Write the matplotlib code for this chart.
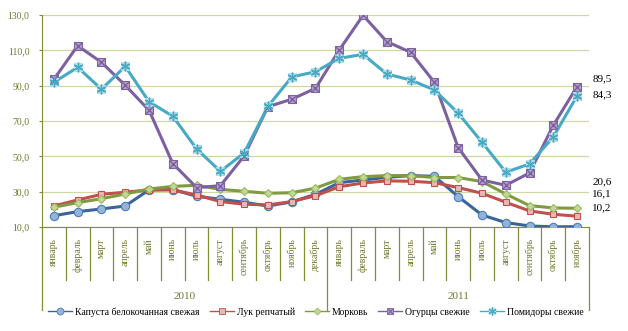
import matplotlib
matplotlib.use("Agg")
from matplotlib import pyplot as plt
from matplotlib.lines import Line2D
from matplotlib.legend_handler import HandlerTuple
import numpy as np

plt.rcParams['font.family'] = ['Liberation Serif', 'DejaVu Serif']

# данные
months = ['январь', 'февраль', 'март', 'апрель', 'май', 'июнь', 'июль', 'август',
          'сентябрь', 'октябрь', 'ноябрь', 'декабрь',
          'январь', 'февраль', 'март', 'апрель', 'май', 'июнь', 'июль', 'август',
          'сентябрь', 'октябрь', 'ноябрь']
years = ['2010', '2011']
year_len = [12, 11]

cabbage = [16.4, 18.7, 20.2, 21.9, 31.0, 31.2, 27.4, 25.7, 24.0, 21.9, 24.2, 28.5,
           35.1, 36.6, 38.1, 39.1, 38.7, 27.2, 16.8, 12.5, 10.6, 10.1, 10.2]
onion = [21.9, 25.3, 28.5, 29.7, 31.0, 31.0, 28.1, 24.4, 22.9, 22.5, 24.4, 27.7,
         32.8, 34.9, 36.1, 35.9, 35.1, 32.3, 29.1, 24.0, 19.1, 17.2, 16.1]
carrot = [21.2, 23.8, 26.0, 28.7, 31.5, 33.0, 33.6, 31.3, 30.2, 29.1, 29.4, 32.0,
          37.0, 38.5, 39.1, 39.1, 38.0, 38.0, 35.7, 28.7, 22.1, 20.8, 20.6]
cucumber = [93.6, 112.6, 103.2, 90.2, 76.1, 45.9, 32.3, 33.4, 50.2, 78.1, 82.3, 88.5,
            110.2, 129.8, 114.9, 108.9, 91.9, 54.9, 36.6, 33.6, 40.6, 67.6, 89.5]
tomato = [91.9, 100.4, 88.0, 100.9, 80.9, 72.7, 54.2, 41.5, 51.9, 78.3, 94.9, 97.9,
          105.5, 107.7, 96.6, 93.2, 87.6, 74.4, 58.0, 41.0, 45.7, 61.0, 84.3]

names = ['Капуста белокочанная свежая', 'Лук репчатый', 'Морковь',
         'Огурцы свежие', 'Помидоры свежие']

olive = '#7f8f35'
tick_col = '#6b7a2c'
grid_col = '#cdd8a4'

fig = plt.figure(figsize=(6.28, 3.31), dpi=100)
ax = fig.add_axes([42/628, 1-227/331, (589-42)/628, 212/331])

x = np.arange(len(months))
lw = 2.2

# стили серий: цвет линии, маркер, размер, заливка, обводка
styles = [
    ('#3b6498', 'o', 6, '#95b3d7', '#4a7ebb'),
    ('#c0504d', 's', 5, '#e6b9b8', '#c0504d'),
    ('#7f9a42', 'D', 4.5, '#c3d69b', '#9bbb59'),
    ('#7d60a0', 's', 6, '#b3a2c7', '#8064a2'),
    ('#46aac5', 's', 6, '#b7dee8', '#b7dee8'),
]
series = [cabbage, onion, carrot, cucumber, tomato]

handles = []
for ser, (c, m, ms, fc, ec) in zip(series, styles):
    ax.plot(x, ser, color=c, lw=lw, marker=m, ms=ms, mfc=fc, mec=ec, mew=0.8, zorder=3)
    handles.append(Line2D([], [], color=c, lw=1.0, marker=m, ms=ms - 1, mfc=fc, mec=ec, mew=0.6))

# кресты поверх маркеров огурцов и помидоров
ax.plot(x, cucumber, ls='none', marker='x', ms=6, mec='#7d60a0', mew=1.0, zorder=4)
ax.plot(x, tomato, ls='none', marker=(6, 2, 0), ms=7, mec='#46aac5', mew=1.0, zorder=4)
hx4 = Line2D([], [], ls='none', marker='x', ms=5, mec='#7d60a0', mew=0.8)
hx5 = Line2D([], [], ls='none', marker=(6, 2, 0), ms=6, mec='#46aac5', mew=0.8)
handles[3] = (handles[3], hx4)
handles[4] = (handles[4], hx5)

# подписи последних значений
offsets = [13.7, 15.8, 19.4, 5.8, 1.0]
for ser, dy in zip(series, offsets):
    v = ser[-1]
    ax.annotate(('%.1f' % v).replace('.', ','), (x[-1], v), xytext=(11, dy),
                textcoords='offset points', ha='left', va='center',
                fontsize=8, color='black', annotation_clip=False)

ax.set_xlim(-0.5, len(months) - 0.5)
ax.set_ylim(10, 130)
ax.set_yticks(np.arange(10, 131, 20))
ax.set_yticklabels([('%.1f' % t).replace('.', ',') for t in np.arange(10, 131, 20)],
                   fontsize=7, color=tick_col)
ax.yaxis.grid(True, color=grid_col, lw=0.9)
ax.set_axisbelow(True)
ax.tick_params(axis='y', length=2, color=olive, pad=7)

ax.set_xticks(x)
ax.set_xticklabels(months, rotation=90, fontsize=7, color=tick_col)
ax.tick_params(axis='x', length=0, pad=8)

for s in ['top', 'right']:
    ax.spines[s].set_visible(False)
ax.spines['left'].set_color(olive)
ax.spines['bottom'].set_color(olive)
ax.spines['left'].set_bounds(10, 130)

# многоуровневая ось категорий
tr = ax.get_xaxis_transform()
bounds = np.cumsum([0] + year_len) - 0.5
for b in np.arange(-0.5, len(months)):
    low = -0.392 if b in bounds else -0.25
    ax.plot([b, b], [0, low], transform=tr, color=olive, lw=0.9, clip_on=False)
for i, yr in enumerate(years):
    ax.text((bounds[i] + bounds[i+1]) / 2, -0.33, yr, transform=tr, ha='center',
            va='center', fontsize=8, color=tick_col)

fig.legend(handles, names, loc='center',
           bbox_to_anchor=(0.503, 1-312/331), ncol=5, frameon=False, fontsize=7,
           handlelength=2.5, handletextpad=0.3, columnspacing=1.0,
           handler_map={tuple: HandlerTuple(ndivide=1)})

fig.savefig('out.png', dpi=100)
